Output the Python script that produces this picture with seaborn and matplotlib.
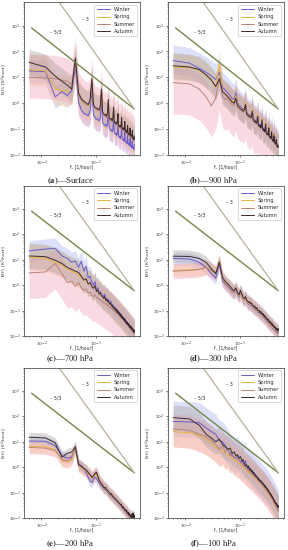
import numpy as np
import pandas as pd
import seaborn as sns
import matplotlib.pyplot as plt

sns.set_style('ticks')
plt.rcParams['font.family'] = ['DejaVu Sans']

SEASONS = ['Winter', 'Spring', 'Summer', 'Autumn']
LINE_COLORS = {'Winter': '#6a5acd', 'Spring': '#e8b33c', 'Summer': '#b9837a', 'Autumn': '#3a2b33'}
BAND_COLORS = {'Winter': '#a9b4f0', 'Spring': '#f6c98a', 'Summer': '#f4a3b8', 'Autumn': '#a8a0a0'}

# discrete frequencies k/168 (1/hour), k = 1..84
freq = np.arange(1, 85) / 168.0

# log10 E(f), one list per season and level
a_winter = [1.25, 1.22, 0.25, 0.45, 0.30, 0.48, 1.45,
            0.05, -0.25, -0.40, -0.42, -0.48, -0.30, 0.55,
            -0.45, -0.55, -0.62, -0.60, -0.68, -0.55, 0.20,
            -0.75, -0.80, -0.85, -0.82, -0.90, -0.80, -0.20,
            -0.95, -1.00, -1.05, -1.02, -1.10, -1.00, -0.55,
            -1.12, -1.18, -1.20, -1.15, -1.25, -1.15, -0.80,
            -1.25, -1.30, -1.32, -1.28, -1.35, -1.25, -0.95,
            -1.35, -1.40, -1.42, -1.38, -1.45, -1.35, -1.10,
            -1.45, -1.50, -1.48, -1.52, -1.55, -1.45, -1.20,
            -1.55, -1.58, -1.60, -1.55, -1.62, -1.55, -1.35,
            -1.62, -1.65, -1.68, -1.62, -1.70, -1.60, -1.45,
            -1.70, -1.72, -1.75, -1.70, -1.78, -1.68, -1.60]
a_spring = [1.30, 1.25, 0.55, 0.50, 0.45, 0.60, 1.70,
            0.35, 0.10, 0.00, -0.05, -0.10, 0.05, 0.90,
            -0.10, -0.18, -0.22, -0.25, -0.28, -0.15, 0.50,
            -0.38, -0.42, -0.48, -0.45, -0.52, -0.42, 0.10,
            -0.58, -0.62, -0.65, -0.62, -0.70, -0.58, -0.20,
            -0.72, -0.78, -0.80, -0.75, -0.82, -0.72, -0.45,
            -0.88, -0.90, -0.92, -0.88, -0.95, -0.85, -0.58,
            -0.98, -1.00, -1.02, -0.98, -1.05, -0.95, -0.72,
            -1.08, -1.10, -1.12, -1.08, -1.15, -1.05, -0.88,
            -1.18, -1.20, -1.22, -1.18, -1.25, -1.15, -0.98,
            -1.25, -1.28, -1.30, -1.25, -1.32, -1.22, -1.08,
            -1.32, -1.36, -1.40, -1.35, -1.42, -1.38, -1.28]
a_summer = [1.00, 0.98, 0.95, 0.90, 0.85, 0.72, 1.62,
            0.30, 0.12, 0.02, -0.05, -0.08, 0.05, 0.85,
            -0.12, -0.20, -0.25, -0.28, -0.30, -0.18, 0.45,
            -0.40, -0.45, -0.50, -0.48, -0.55, -0.45, 0.05,
            -0.60, -0.65, -0.68, -0.65, -0.72, -0.62, -0.25,
            -0.75, -0.80, -0.82, -0.78, -0.85, -0.75, -0.48,
            -0.90, -0.92, -0.95, -0.90, -0.98, -0.88, -0.62,
            -1.00, -1.02, -1.05, -1.00, -1.08, -0.98, -0.78,
            -1.10, -1.12, -1.15, -1.10, -1.18, -1.08, -0.90,
            -1.20, -1.22, -1.25, -1.20, -1.28, -1.18, -1.00,
            -1.28, -1.30, -1.32, -1.28, -1.35, -1.25, -1.10,
            -1.35, -1.38, -1.42, -1.38, -1.45, -1.40, -1.30]
a_autumn = [1.58, 1.40, 1.05, 0.85, 0.70, 0.55, 1.75,
            0.40, 0.18, 0.08, 0.02, -0.05, 0.12, 0.95,
            -0.05, -0.15, -0.18, -0.22, -0.25, -0.10, 0.55,
            -0.35, -0.40, -0.45, -0.42, -0.50, -0.38, 0.15,
            -0.55, -0.60, -0.62, -0.58, -0.68, -0.55, -0.15,
            -0.70, -0.75, -0.78, -0.72, -0.80, -0.70, -0.40,
            -0.85, -0.88, -0.90, -0.85, -0.92, -0.82, -0.55,
            -0.95, -0.98, -1.00, -0.95, -1.02, -0.92, -0.70,
            -1.05, -1.08, -1.10, -1.05, -1.12, -1.02, -0.85,
            -1.15, -1.18, -1.20, -1.15, -1.22, -1.12, -0.95,
            -1.22, -1.25, -1.28, -1.22, -1.30, -1.20, -1.05,
            -1.30, -1.35, -1.38, -1.32, -1.40, -1.35, -1.25]

b_winter = [1.65, 1.55, 1.35, 1.20, 1.05, 0.92, 1.20,
            0.62, 0.50, 0.40, 0.30, 0.18, 0.15, 0.40,
            0.02, -0.08, -0.12, -0.18, -0.22, -0.20, 0.02,
            -0.32, -0.40, -0.45, -0.42, -0.52, -0.48, -0.28,
            -0.58, -0.62, -0.68, -0.65, -0.72, -0.68, -0.48,
            -0.78, -0.82, -0.85, -0.80, -0.90, -0.85, -0.62,
            -0.92, -0.98, -1.00, -0.95, -1.05, -0.98, -0.78,
            -1.08, -1.12, -1.15, -1.08, -1.18, -1.12, -0.92,
            -1.20, -1.25, -1.28, -1.22, -1.30, -1.25, -1.05,
            -1.32, -1.35, -1.40, -1.32, -1.42, -1.38, -1.18,
            -1.42, -1.48, -1.50, -1.45, -1.55, -1.48, -1.32,
            -1.55, -1.58, -1.62, -1.58, -1.65, -1.62, -1.60]
b_spring = [1.40, 1.38, 1.28, 1.08, 0.88, 0.62, 1.50,
            0.45, 0.35, 0.28, 0.18, 0.08, 0.05, 0.30,
            -0.05, -0.12, -0.18, -0.22, -0.28, -0.22, 0.05,
            -0.38, -0.45, -0.48, -0.45, -0.55, -0.50, -0.20,
            -0.62, -0.68, -0.70, -0.68, -0.75, -0.70, -0.42,
            -0.82, -0.85, -0.88, -0.85, -0.92, -0.88, -0.58,
            -0.98, -1.02, -1.05, -1.00, -1.08, -1.02, -0.75,
            -1.12, -1.15, -1.18, -1.12, -1.22, -1.15, -0.90,
            -1.25, -1.28, -1.32, -1.25, -1.35, -1.28, -1.05,
            -1.35, -1.40, -1.42, -1.38, -1.45, -1.40, -1.20,
            -1.48, -1.50, -1.55, -1.48, -1.58, -1.52, -1.35,
            -1.58, -1.62, -1.65, -1.60, -1.68, -1.65, -1.62]
b_summer = [0.80, 0.75, 0.55, 0.25, -0.10, 0.20, 0.95,
            0.25, 0.15, 0.20, 0.05, -0.05, -0.10, 0.15,
            -0.15, -0.20, -0.28, -0.25, -0.35, -0.30, -0.10,
            -0.45, -0.50, -0.55, -0.52, -0.60, -0.55, -0.35,
            -0.68, -0.72, -0.75, -0.72, -0.80, -0.75, -0.55,
            -0.88, -0.90, -0.92, -0.90, -0.98, -0.92, -0.70,
            -1.02, -1.05, -1.08, -1.05, -1.12, -1.08, -0.85,
            -1.15, -1.18, -1.22, -1.18, -1.25, -1.20, -1.00,
            -1.28, -1.30, -1.35, -1.30, -1.38, -1.32, -1.12,
            -1.40, -1.42, -1.45, -1.42, -1.50, -1.45, -1.28,
            -1.50, -1.55, -1.58, -1.52, -1.62, -1.58, -1.42,
            -1.62, -1.65, -1.68, -1.65, -1.72, -1.70, -1.68]
b_autumn = [1.45, 1.40, 1.30, 1.10, 0.90, 0.65, 0.95,
            0.45, 0.35, 0.25, 0.15, 0.05, 0.00, 0.20,
            -0.08, -0.15, -0.20, -0.25, -0.30, -0.25, -0.05,
            -0.40, -0.45, -0.50, -0.48, -0.55, -0.52, -0.30,
            -0.62, -0.68, -0.72, -0.68, -0.78, -0.72, -0.50,
            -0.82, -0.88, -0.90, -0.85, -0.95, -0.90, -0.65,
            -0.98, -1.02, -1.05, -1.00, -1.10, -1.05, -0.80,
            -1.12, -1.18, -1.20, -1.15, -1.22, -1.18, -0.95,
            -1.25, -1.30, -1.32, -1.28, -1.35, -1.30, -1.10,
            -1.38, -1.40, -1.45, -1.40, -1.48, -1.42, -1.25,
            -1.48, -1.52, -1.55, -1.50, -1.58, -1.55, -1.40,
            -1.60, -1.62, -1.68, -1.62, -1.70, -1.68, -1.65]

c_winter = [1.35, 1.42, 1.45, 1.15, 1.05, 0.90, 0.95,
            0.70, 0.95, 0.55, 0.75, 0.30, 0.35, 0.10,
            0.00, 0.15, -0.20, -0.10, -0.30, -0.25, -0.35,
            -0.40, -0.45, -0.35, -0.55, -0.50, -0.60, -0.55,
            -0.65, -0.70, -0.62, -0.78, -0.75, -0.85, -0.80,
            -0.90, -0.85, -0.95, -1.00, -0.92, -1.05, -1.00,
            -1.10, -1.05, -1.15, -1.12, -1.20, -1.15, -1.25,
            -1.22, -1.30, -1.25, -1.35, -1.30, -1.38, -1.32,
            -1.40, -1.36, -1.45, -1.42, -1.50, -1.45, -1.52,
            -1.55, -1.50, -1.58, -1.55, -1.62, -1.58, -1.65,
            -1.62, -1.70, -1.65, -1.72, -1.68, -1.75, -1.72,
            -1.78, -1.75, -1.82, -1.78, -1.85, -1.80, -1.88]
c_spring = [1.10, 1.05, 0.90, 0.78, 0.65, 0.55, 0.48,
            0.40, 0.30, 0.20, 0.22, 0.05, 0.08, -0.05,
            -0.10, -0.05, -0.22, -0.20, -0.32, -0.30, -0.40,
            -0.45, -0.50, -0.48, -0.58, -0.55, -0.65, -0.62,
            -0.70, -0.75, -0.72, -0.82, -0.80, -0.88, -0.85,
            -0.95, -0.92, -1.00, -1.02, -0.98, -1.08, -1.05,
            -1.12, -1.10, -1.18, -1.15, -1.22, -1.18, -1.28,
            -1.25, -1.32, -1.28, -1.38, -1.35, -1.40, -1.36,
            -1.45, -1.42, -1.48, -1.45, -1.52, -1.50, -1.56,
            -1.58, -1.55, -1.62, -1.60, -1.65, -1.62, -1.70,
            -1.68, -1.72, -1.70, -1.76, -1.72, -1.80, -1.78,
            -1.82, -1.80, -1.86, -1.84, -1.90, -1.86, -1.92]
c_summer = [0.48, 0.52, 0.85, 0.45, 0.10, 0.15, -0.05,
            0.10, -0.10, -0.20, -0.15, -0.30, -0.28, -0.40,
            -0.45, -0.38, -0.50, -0.48, -0.58, -0.55, -0.62,
            -0.65, -0.70, -0.68, -0.75, -0.72, -0.80, -0.78,
            -0.85, -0.88, -0.85, -0.92, -0.90, -0.98, -0.95,
            -1.02, -1.00, -1.08, -1.10, -1.05, -1.15, -1.12,
            -1.18, -1.15, -1.22, -1.20, -1.28, -1.25, -1.32,
            -1.30, -1.36, -1.32, -1.40, -1.38, -1.45, -1.42,
            -1.48, -1.45, -1.52, -1.50, -1.55, -1.52, -1.60,
            -1.62, -1.58, -1.65, -1.62, -1.70, -1.66, -1.72,
            -1.70, -1.75, -1.72, -1.80, -1.76, -1.82, -1.80,
            -1.85, -1.82, -1.88, -1.86, -1.92, -1.88, -1.95]
c_autumn = [1.15, 1.12, 0.98, 0.85, 0.70, 0.62, 0.55,
            0.50, 0.35, 0.20, 0.25, 0.05, 0.10, -0.05,
            -0.12, -0.02, -0.25, -0.18, -0.35, -0.30, -0.42,
            -0.45, -0.52, -0.45, -0.60, -0.55, -0.65, -0.60,
            -0.72, -0.75, -0.70, -0.82, -0.78, -0.88, -0.85,
            -0.95, -0.90, -0.98, -1.02, -0.96, -1.08, -1.02,
            -1.12, -1.08, -1.18, -1.12, -1.22, -1.16, -1.28,
            -1.22, -1.30, -1.26, -1.36, -1.30, -1.40, -1.35,
            -1.42, -1.38, -1.48, -1.42, -1.52, -1.46, -1.55,
            -1.52, -1.50, -1.60, -1.55, -1.62, -1.58, -1.68,
            -1.62, -1.66, -1.62, -1.72, -1.66, -1.75, -1.70,
            -1.76, -1.72, -1.80, -1.74, -1.84, -1.78, -1.85]

d_winter = [1.05, 1.03, 0.90, 0.70, 0.45, 0.28, 0.85,
            0.15, 0.05, -0.05, -0.15, -0.25, -0.30, -0.20,
            -0.35, -0.45, -0.25, -0.40, -0.55, -0.60, -0.50,
            -0.65, -0.70, -0.75, -0.72, -0.80, -0.78, -0.85,
            -0.88, -0.92, -0.90, -0.98, -1.00, -0.95, -1.05,
            -1.08, -1.05, -1.12, -1.15, -1.10, -1.20, -1.18,
            -1.25, -1.22, -1.28, -1.30, -1.26, -1.35, -1.32,
            -1.38, -1.42, -1.40, -1.45, -1.48, -1.44, -1.52,
            -1.50, -1.55, -1.58, -1.54, -1.60, -1.62, -1.58,
            -1.65, -1.62, -1.68, -1.70, -1.66, -1.72, -1.75,
            -1.72, -1.78, -1.75, -1.80, -1.82, -1.78, -1.85,
            -1.82, -1.86, -1.88, -1.84, -1.90, -1.88, -1.92]
d_spring = [0.58, 0.60, 0.62, 0.68, 0.60, 0.50, 0.95,
            0.25, 0.10, 0.00, -0.10, -0.22, -0.28, -0.15,
            -0.32, -0.42, -0.28, -0.45, -0.55, -0.58, -0.50,
            -0.62, -0.68, -0.72, -0.70, -0.78, -0.76, -0.82,
            -0.85, -0.90, -0.88, -0.95, -0.98, -0.92, -1.02,
            -1.05, -1.02, -1.10, -1.12, -1.08, -1.18, -1.15,
            -1.22, -1.20, -1.25, -1.28, -1.24, -1.32, -1.30,
            -1.35, -1.40, -1.38, -1.42, -1.46, -1.42, -1.50,
            -1.48, -1.52, -1.56, -1.52, -1.58, -1.60, -1.56,
            -1.62, -1.60, -1.66, -1.68, -1.64, -1.70, -1.72,
            -1.70, -1.75, -1.72, -1.78, -1.80, -1.76, -1.82,
            -1.80, -1.84, -1.86, -1.82, -1.88, -1.86, -1.90]
d_summer = [0.55, 0.58, 0.62, 0.70, 0.58, 0.48, 0.92,
            0.22, 0.08, -0.02, -0.12, -0.20, -0.25, -0.18,
            -0.30, -0.40, -0.32, -0.42, -0.52, -0.55, -0.48,
            -0.60, -0.66, -0.70, -0.68, -0.76, -0.74, -0.80,
            -0.84, -0.88, -0.86, -0.94, -0.96, -0.90, -1.00,
            -1.04, -1.00, -1.08, -1.10, -1.06, -1.16, -1.12,
            -1.20, -1.18, -1.24, -1.26, -1.22, -1.30, -1.28,
            -1.34, -1.38, -1.36, -1.40, -1.44, -1.40, -1.48,
            -1.46, -1.50, -1.54, -1.50, -1.56, -1.58, -1.54,
            -1.60, -1.58, -1.64, -1.66, -1.62, -1.68, -1.70,
            -1.68, -1.72, -1.70, -1.76, -1.78, -1.74, -1.80,
            -1.78, -1.82, -1.84, -1.80, -1.86, -1.84, -1.88]
d_autumn = [1.14, 1.13, 1.05, 0.90, 0.65, 0.45, 0.90,
            0.30, 0.15, 0.05, -0.05, -0.15, -0.22, -0.10,
            -0.28, -0.38, -0.20, -0.35, -0.48, -0.52, -0.45,
            -0.58, -0.62, -0.68, -0.65, -0.72, -0.70, -0.78,
            -0.80, -0.85, -0.82, -0.90, -0.92, -0.88, -0.98,
            -1.00, -0.98, -1.05, -1.08, -1.02, -1.12, -1.10,
            -1.15, -1.12, -1.20, -1.22, -1.18, -1.26, -1.22,
            -1.30, -1.32, -1.30, -1.36, -1.38, -1.34, -1.42,
            -1.40, -1.45, -1.48, -1.44, -1.50, -1.52, -1.48,
            -1.55, -1.52, -1.58, -1.60, -1.56, -1.62, -1.65,
            -1.62, -1.66, -1.64, -1.70, -1.72, -1.68, -1.74,
            -1.70, -1.75, -1.78, -1.72, -1.80, -1.76, -1.70]

e_winter = [1.03, 1.02, 0.85, 0.45, 0.35, 0.40, 0.75,
            0.15, 0.05, -0.05, -0.20, -0.40, -0.55, -0.60,
            -0.45, -0.40, -0.45, -0.55, -0.62, -0.70, -0.72,
            -0.78, -0.82, -0.88, -0.85, -0.92, -0.98, -1.00,
            -1.05, -1.08, -1.12, -1.10, -1.18, -1.20, -1.22,
            -1.25, -1.28, -1.30, -1.32, -1.35, -1.38, -1.40,
            -1.42, -1.45, -1.48, -1.50, -1.52, -1.50, -1.58,
            -1.60, -1.62, -1.60, -1.66, -1.65, -1.70, -1.72,
            -1.75, -1.72, -1.78, -1.80, -1.76, -1.84, -1.86,
            -1.88, -1.85, -1.90, -1.94, -1.90, -1.96, -1.98,
            -1.95, -2.00, -1.98, -2.04, -1.96, -2.02, -2.06,
            -2.00, -2.04, -2.08, -2.02, -2.10, -2.05, -2.08]
e_spring = [0.83, 0.80, 0.70, 0.25, 0.20, 0.30, 0.75,
            0.05, -0.02, -0.10, -0.15, -0.25, -0.32, -0.42,
            -0.38, -0.30, -0.32, -0.42, -0.55, -0.62, -0.68,
            -0.72, -0.80, -0.84, -0.82, -0.90, -0.94, -0.98,
            -1.02, -1.05, -1.10, -1.08, -1.15, -1.18, -1.20,
            -1.22, -1.25, -1.28, -1.30, -1.32, -1.36, -1.38,
            -1.40, -1.42, -1.45, -1.48, -1.50, -1.48, -1.55,
            -1.58, -1.60, -1.58, -1.64, -1.62, -1.68, -1.70,
            -1.72, -1.70, -1.76, -1.78, -1.74, -1.80, -1.84,
            -1.85, -1.82, -1.88, -1.92, -1.88, -1.94, -1.96,
            -1.92, -1.98, -1.95, -2.00, -1.94, -2.00, -2.04,
            -1.98, -2.02, -2.06, -2.00, -2.08, -2.02, -2.05]
e_summer = [0.78, 0.75, 0.65, 0.30, 0.25, 0.35, 0.80,
            0.08, 0.00, -0.08, -0.12, -0.22, -0.28, -0.38,
            -0.32, -0.22, -0.25, -0.38, -0.52, -0.58, -0.64,
            -0.70, -0.76, -0.80, -0.78, -0.86, -0.90, -0.94,
            -0.98, -1.02, -1.06, -1.04, -1.12, -1.14, -1.16,
            -1.20, -1.22, -1.26, -1.28, -1.30, -1.34, -1.36,
            -1.38, -1.40, -1.44, -1.46, -1.48, -1.46, -1.52,
            -1.56, -1.58, -1.56, -1.62, -1.60, -1.66, -1.68,
            -1.70, -1.68, -1.74, -1.76, -1.72, -1.78, -1.82,
            -1.84, -1.80, -1.86, -1.90, -1.86, -1.92, -1.94,
            -1.90, -1.96, -1.92, -1.98, -1.90, -1.98, -2.02,
            -1.96, -1.98, -2.04, -1.98, -2.05, -2.00, -2.02]
e_autumn = [1.18, 1.15, 0.96, 0.40, 0.55, 0.60, 0.80,
            0.10, 0.05, -0.05, -0.10, -0.20, -0.30, -0.40,
            -0.35, -0.25, -0.20, -0.35, -0.50, -0.60, -0.65,
            -0.70, -0.78, -0.82, -0.80, -0.88, -0.92, -0.95,
            -1.00, -1.02, -1.08, -1.05, -1.12, -1.15, -1.18,
            -1.20, -1.22, -1.25, -1.28, -1.30, -1.32, -1.35,
            -1.38, -1.40, -1.42, -1.45, -1.48, -1.45, -1.52,
            -1.55, -1.58, -1.55, -1.62, -1.60, -1.65, -1.68,
            -1.70, -1.66, -1.72, -1.75, -1.70, -1.78, -1.80,
            -1.82, -1.78, -1.85, -1.88, -1.82, -1.90, -1.92,
            -1.88, -1.95, -1.90, -1.98, -1.85, -1.95, -2.00,
            -1.92, -1.80, -1.98, -1.85, -2.02, -1.90, -1.95]

f_winter = [1.80, 1.78, 1.75, 1.55, 1.40, 1.30, 1.05,
            1.00, 0.85, 0.70, 0.55, 0.45, 0.40, 0.35,
            0.45, 0.30, 0.20, 0.28, 0.15, 0.10, 0.25,
            0.05, -0.05, 0.00, -0.15, -0.10, -0.22, -0.18,
            -0.30, -0.25, -0.38, -0.35, -0.42, -0.40, -0.50,
            -0.48, -0.55, -0.52, -0.60, -0.58, -0.65, -0.62,
            -0.70, -0.68, -0.75, -0.72, -0.80, -0.78, -0.85,
            -0.82, -0.90, -0.88, -0.95, -0.92, -1.00, -0.98,
            -1.05, -1.02, -1.10, -1.08, -1.15, -1.12, -1.20,
            -1.18, -1.25, -1.22, -1.30, -1.28, -1.35, -1.32,
            -1.40, -1.38, -1.45, -1.42, -1.50, -1.48, -1.55,
            -1.52, -1.60, -1.58, -1.65, -1.62, -1.70, -1.75]
f_spring = [1.40, 1.35, 1.25, 1.10, 0.95, 0.80, 0.70,
            0.65, 0.55, 0.50, 0.42, 0.38, 0.30, 0.25,
            0.20, 0.15, 0.10, 0.05, 0.02, -0.05, -0.08,
            -0.12, -0.18, -0.15, -0.25, -0.22, -0.30, -0.28,
            -0.38, -0.35, -0.42, -0.40, -0.48, -0.45, -0.55,
            -0.52, -0.60, -0.58, -0.65, -0.62, -0.70, -0.68,
            -0.75, -0.72, -0.80, -0.78, -0.85, -0.82, -0.90,
            -0.88, -0.95, -0.92, -1.00, -0.98, -1.05, -1.02,
            -1.10, -1.08, -1.15, -1.12, -1.20, -1.18, -1.25,
            -1.22, -1.30, -1.28, -1.35, -1.32, -1.40, -1.38,
            -1.45, -1.42, -1.50, -1.48, -1.55, -1.52, -1.60,
            -1.58, -1.65, -1.62, -1.70, -1.68, -1.75, -1.78]
f_summer = [1.50, 1.45, 1.30, 1.20, 1.05, 0.90, 0.70,
            0.85, 0.60, 0.75, 0.45, 0.55, 0.35, 0.40,
            0.25, 0.32, 0.15, 0.20, 0.05, 0.10, -0.05,
            -0.02, -0.12, -0.08, -0.20, -0.15, -0.28, -0.22,
            -0.35, -0.30, -0.40, -0.38, -0.45, -0.42, -0.52,
            -0.50, -0.58, -0.55, -0.62, -0.60, -0.68, -0.65,
            -0.72, -0.70, -0.78, -0.75, -0.82, -0.80, -0.88,
            -0.85, -0.92, -0.90, -0.98, -0.95, -1.02, -1.00,
            -1.08, -1.05, -1.12, -1.10, -1.18, -1.15, -1.22,
            -1.20, -1.28, -1.25, -1.32, -1.30, -1.38, -1.35,
            -1.42, -1.40, -1.48, -1.45, -1.52, -1.50, -1.58,
            -1.55, -1.62, -1.60, -1.68, -1.65, -1.72, -1.70]
f_autumn = [1.95, 1.90, 1.65, 1.30, 1.15, 1.00, 1.10,
            0.90, 0.80, 0.70, 0.75, 0.55, 0.60, 0.45,
            0.50, 0.35, 0.42, 0.25, 0.30, 0.15, 0.05,
            0.10, -0.02, 0.05, -0.10, -0.05, -0.18, -0.12,
            -0.25, -0.20, -0.32, -0.28, -0.38, -0.35, -0.45,
            -0.42, -0.50, -0.48, -0.55, -0.52, -0.60, -0.58,
            -0.65, -0.62, -0.70, -0.68, -0.75, -0.72, -0.80,
            -0.78, -0.85, -0.82, -0.90, -0.88, -0.95, -0.92,
            -1.00, -0.98, -1.05, -1.02, -1.10, -1.08, -1.15,
            -1.12, -1.20, -1.18, -1.25, -1.22, -1.30, -1.28,
            -1.35, -1.32, -1.40, -1.38, -1.42, -1.40, -1.48,
            -1.45, -1.50, -1.48, -1.55, -1.50, -1.58, -1.52]

# spread of the shaded band (decades below, decades above), order = SEASONS
a_spread = [(0.45, 0.45), (0.60, 0.60), (0.80, 0.90), (0.50, 0.50)]
b_spread = [(0.50, 0.60), (0.50, 0.50), (1.20, 0.60), (0.50, 0.50)]
c_spread = [(0.40, 0.40), (0.50, 0.50), (1.00, 0.60), (0.50, 0.50)]
d_spread = [(0.25, 0.25), (0.25, 0.25), (0.30, 0.30), (0.25, 0.25)]
e_spread = [(0.20, 0.20), (0.25, 0.25), (0.25, 0.25), (0.20, 0.20)]
f_spread = [(0.60, 0.80), (0.60, 0.50), (0.70, 0.60), (0.50, 0.50)]

panel_tags = ['a', 'b', 'c', 'd', 'e', 'f']
panel_names = ['Surface', '900 hPa', '700 hPa', '300 hPa', '200 hPa', '100 hPa']
panel_series = [
    [a_winter, a_spring, a_summer, a_autumn],
    [b_winter, b_spring, b_summer, b_autumn],
    [c_winter, c_spring, c_summer, c_autumn],
    [d_winter, d_spring, d_summer, d_autumn],
    [e_winter, e_spring, e_summer, e_autumn],
    [f_winter, f_spring, f_summer, f_autumn],
]
panel_spread = [a_spread, b_spread, c_spread, d_spread, e_spread, f_spread]

# reference slopes, anchored at f = 0.5, E = 0.6
ref_f0, ref_e0 = 0.5, 0.6
ref53_f = np.array([0.0066, 0.5])
ref3_f = np.array([0.015, 0.5])

fig = plt.figure(figsize=(2.88, 5.5), dpi=100)
col_left = [0.083, 0.583]
row_bottom = [0.718, 0.389, 0.058]
row_height = [0.278, 0.273, 0.273]
cap_x = [0.243, 0.743]
cap_y = [0.672, 0.348, 0.012]

for i in range(6):
    row, col = divmod(i, 2)
    ax = fig.add_axes([col_left[col], row_bottom[row], 0.403, row_height[row]])
    series = panel_series[i]

    for season, vals, (dn, up) in zip(SEASONS, series, panel_spread[i]):
        v = np.array(vals)
        ax.fill_between(freq, 10 ** (v - dn), 10 ** (v + up),
                        color=BAND_COLORS[season], alpha=0.4, lw=0)

    df = pd.DataFrame({
        'f': np.tile(freq, 4),
        'E': 10 ** np.concatenate([np.array(s) for s in series]),
        'season': np.repeat(SEASONS, len(freq)),
    })
    sns.lineplot(data=df, x='f', y='E', hue='season', hue_order=SEASONS,
                 palette=LINE_COLORS, lw=0.7, ax=ax)

    ax.plot(ref53_f, ref_e0 * (ref53_f / ref_f0) ** (-5 / 3), color='#74874a', lw=1.0)
    ax.plot(ref3_f, ref_e0 * (ref3_f / ref_f0) ** (-3), color='#b8b09c', lw=0.9)
    ax.text(0.0145, 480, '\u2013 5/3', fontsize=3.4, color='#333333')
    ax.text(0.055, 1500, '\u2013 3', fontsize=3.4, color='#333333')

    ax.set_xscale('log')
    ax.set_yscale('log')
    ax.set_xlim(10 ** -2.32, 10 ** -0.2)
    ax.set_ylim(0.01, 8000)
    ax.set_xlabel('f, [1/hour]', fontsize=3.3, color='#333333')
    ax.set_ylabel('E(f), [K$^2$/hour]', fontsize=3.2, color='#333333')
    ax.xaxis.set_label_coords(0.5, -0.062)
    ax.yaxis.set_label_coords(-0.125, 0.5)
    ax.tick_params(which='major', labelsize=3.2, length=1.5, width=0.5, pad=0.8, colors='#444444')
    ax.tick_params(which='minor', length=1.0, width=0.4, colors='#444444')
    for sp in ax.spines.values():
        sp.set_linewidth(0.6)
        sp.set_color('#555555')

    handles, labels = ax.get_legend_handles_labels()
    leg = ax.legend(handles, labels, loc='upper right', fontsize=3.6, handlelength=2.6,
                    borderpad=0.5, labelspacing=0.45, frameon=True, framealpha=1,
                    edgecolor='#cccccc')
    leg.get_frame().set_linewidth(0.5)

    fig.text(cap_x[col], cap_y[row], r'$\mathbf{(' + panel_tags[i] + ')}$\u2014' + panel_names[i],
             ha='center', va='center', fontsize=6.2, family='Liberation Serif',
             math_fontfamily='stix')

fig.savefig('out.png', dpi=100)
